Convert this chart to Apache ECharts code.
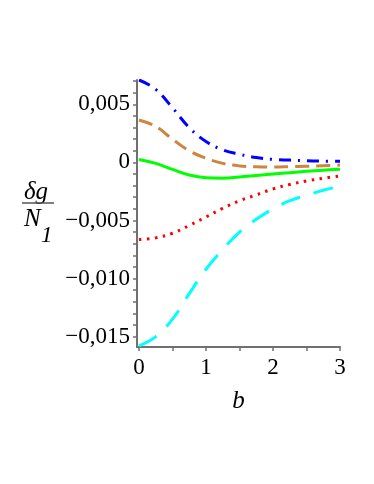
<!DOCTYPE html>
<html>
<head>
<meta charset="utf-8">
<script src="https://cdn.jsdelivr.net/npm/echarts@6/dist/echarts.min.js"></script>
<style>html,body{margin:0;padding:0;background:#fff}#c{width:374px;height:484px}</style>
</head>
<body>
<div id="c"></div>
<script>
var bValues = [0, 0.25, 0.5, 0.75, 1.0, 1.25, 1.5, 1.75, 2.0, 2.25, 2.5, 2.75, 3.0];
var blueSeries   = [0.0071, 0.0063, 0.0047, 0.0030, 0.0018, 0.00108, 0.0007, 0.00042, 0.00026, 0.0002, 0.00014, 0.00011, 0.0001];
var orangeSeries = [0.00366, 0.0031, 0.0020, 0.0010, 0.00036, -0.00008, -0.0003, -0.00038, -0.0004, -0.00037, -0.00033, -0.00028, -0.00023];
var greenSeries  = [0.00026, -0.00008, -0.0006, -0.00108, -0.00132, -0.00136, -0.00126, -0.00113, -0.001, -0.00088, -0.00077, -0.00067, -0.00058];
var redSeries    = [-0.00664, -0.0065, -0.0061, -0.00543, -0.0047, -0.00395, -0.0033, -0.0028, -0.00228, -0.0019, -0.0016, -0.00136, -0.00116];
var cyanSeries   = [-0.0158, -0.0150, -0.0135, -0.0113, -0.0092, -0.0075, -0.0060, -0.0049, -0.0040, -0.0033, -0.00283, -0.0024, -0.00205];
var xTickLabels = [0, 1, 2, 3];
var xMinorTicks = [0, 0.5, 1, 1.5, 2, 2.5, 3];
var yTickLabels = [-0.015, -0.010, -0.005, 0, 0.005];
var yMinorTicks = [-0.015,-0.014,-0.013,-0.012,-0.011,-0.010,-0.009,-0.008,-0.007,-0.006,-0.005,-0.004,-0.003,-0.002,-0.001,0,0.001,0.002,0.003,0.004,0.005,0.006,0.007];

function pairs(ys){ return bValues.map(function(b,i){ return [b, ys[i]]; }); }
function fmtY(v){
  if (Math.abs(v) < 1e-12) return '0';
  var s = Math.abs(v).toFixed(3).replace('.', ',');
  return (v < 0 ? '\u2212' : '') + s;
}
var font = 'Liberation Serif';
var axisGrey = '#707070';

var chart = echarts.init(document.getElementById('c'));
chart.setOption({
  animation: false,
  grid: { left: 137, top: 80, width: 203, height: 267, containLabel: false, outerBoundsMode: 'none' },
  xAxis: {
    type: 'value', min: -0.03, max: 3,
    axisLine: { onZero: false, lineStyle: { color: axisGrey, width: 2 } },
    axisTick: { show: true, customValues: xMinorTicks, length: 4, lineStyle: { color: axisGrey, width: 1.5 } },
    axisLabel: { customValues: xTickLabels, margin: 9, color: '#000', fontFamily: font, fontSize: 23,
      formatter: function(v){ return String(Math.round(v)); } },
    splitLine: { show: false },
    name: 'b', nameLocation: 'middle', nameGap: 42,
    nameTextStyle: { fontFamily: font, fontSize: 25, fontStyle: 'italic', color: '#000' }
  },
  yAxis: {
    type: 'value', min: -0.0159, max: 0.0071,
    axisLine: { onZero: false, lineStyle: { color: axisGrey, width: 2 } },
    axisTick: { show: true, customValues: yMinorTicks, length: 4, lineStyle: { color: axisGrey, width: 1.5 } },
    axisLabel: { customValues: yTickLabels, margin: 7, color: '#000', fontFamily: font, fontSize: 23, formatter: fmtY },
    splitLine: { show: false }
  },
  graphic: [
    { type: 'text', left: 24, top: 180, style: { text: '\u03b4g', fontFamily: font, fontStyle: 'italic', fontSize: 25, fill: '#000' } },
    { type: 'line', shape: { x1: 22, y1: 203, x2: 54, y2: 203 }, style: { stroke: '#555', lineWidth: 1.5 } },
    { type: 'text', left: 24, top: 207, style: { text: 'N', fontFamily: font, fontStyle: 'italic', fontSize: 25, fill: '#000' } },
    { type: 'text', left: 41, top: 224, style: { text: '1', fontFamily: font, fontStyle: 'italic', fontSize: 23, fill: '#000' } }
  ],
  series: [
    { type: 'line', data: pairs(blueSeries), smooth: 0.4, showSymbol: false,
      lineStyle: { color: '#0000ff', width: 3, type: [12, 7, 2, 7] } },
    { type: 'line', data: pairs(orangeSeries), smooth: 0.4, showSymbol: false,
      lineStyle: { color: '#cd853f', width: 3, type: [14, 7] } },
    { type: 'line', data: pairs(greenSeries), smooth: 0.4, showSymbol: false,
      lineStyle: { color: '#00ff00', width: 3, type: 'solid' } },
    { type: 'line', data: pairs(redSeries), smooth: 0.4, showSymbol: false,
      lineStyle: { color: '#ff0000', width: 3, type: [2.5, 5.5] } },
    { type: 'line', data: pairs(cyanSeries), smooth: 0.4, showSymbol: false,
      lineStyle: { color: '#00ffff', width: 3, type: [20, 14] } }
  ]
});
</script>
</body>
</html>
